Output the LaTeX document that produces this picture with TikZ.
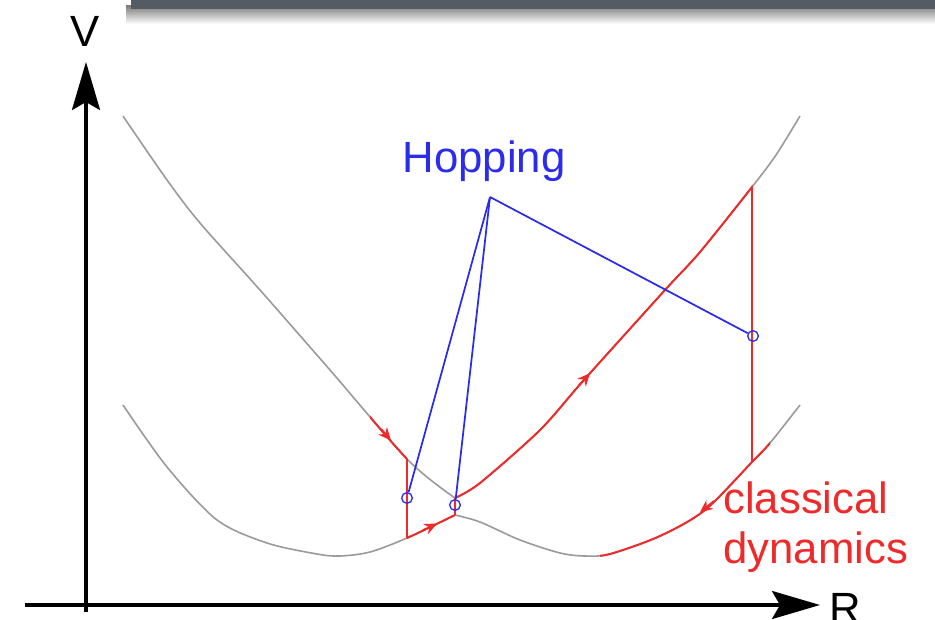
\documentclass[tikz,border=0pt]{standalone}
\usepackage{fontspec}
\setmainfont{Liberation Sans}
\usetikzlibrary{arrows.meta}
\definecolor{curvegray}{HTML}{9A9A9A}
\definecolor{dynred}{HTML}{EE2A2A}
\definecolor{hopblue}{HTML}{2B2BEE}
\definecolor{barcol}{HTML}{555B63}
\begin{document}
\begin{tikzpicture}[x=0.75pt,y=-0.75pt,
  pes/.style={draw=curvegray, line width=1.2pt},
  dyn/.style={draw=dynred, line width=1.5pt},
  dynarrow/.style={dyn, -{Stealth[length=9.5pt,width=8.5pt]}},
  hop/.style={draw=hopblue, line width=1.3pt},
  hopcirc/.style={circle, draw=hopblue, line width=1pt, minimum size=8pt, inner sep=0pt},
  axisline/.style={draw=black, line width=2.5pt, -{Stealth[length=36pt,width=21pt,inset=6pt]}},
  lbl/.style={font=\fontsize{32.8}{39}\selectfont, inner sep=0pt}
]
\useasboundingbox (0,0) rectangle (935,620);

% top bar with shadow
\shade[top color=black!50, bottom color=white] (126,6) rectangle (935,24);
\fill[barcol] (131,0) rectangle (935,9);

% potential energy curves
\draw[pes] plot[smooth] coordinates {(123,116) (167,180) (200,223) (260,290) (330,370) (408,460) (455,498)};
\draw[pes] plot[smooth] coordinates {(455,498) (480,483) (540,430) (583,381) (665,290) (700,252) (752,187) (776,155) (800,116)};
\draw[pes] plot[smooth] coordinates {(123,405) (167,467) (217,520) (267,543) (317,554) (340,556) (370,552) (407,538) (455,515)};
\draw[pes] plot[smooth] coordinates {(455,515) (480,522) (520,540) (560,553) (585,556) (610,554) (660,536) (705,510) (752,462) (770,443) (800,405)};

% classical dynamics (red)
\begin{scope}
  \clip (370,0) rectangle (407.5,620);
  \draw[dyn] plot[smooth] coordinates {(123,116) (167,180) (200,223) (260,290) (330,370) (408,460) (455,498)};
\end{scope}
\begin{scope}
  \clip (406.5,0) rectangle (455.5,620);
  \draw[dyn] plot[smooth] coordinates {(123,405) (167,467) (217,520) (267,543) (317,554) (340,556) (370,552) (407,538) (455,515)};
\end{scope}
\begin{scope}
  \clip (454.5,0) rectangle (752.5,620);
  \draw[dyn] plot[smooth] coordinates {(455,498) (480,483) (540,430) (583,381) (665,290) (700,252) (752,187) (776,155) (800,116)};
\end{scope}
\begin{scope}
  \clip (600,0) rectangle (770,620);
  \draw[dyn] plot[smooth] coordinates {(455,515) (480,522) (520,540) (560,553) (585,556) (610,554) (660,536) (705,510) (752,462) (770,443) (800,405)};
\end{scope}

\coordinate (h1top) at (407,459);
\coordinate (h1bot) at (407,538);
\coordinate (h2bot) at (455,515);
\coordinate (h2top) at (455,498);
\coordinate (h3top) at (752,187);
\coordinate (h3bot) at (752,462);
\draw[dyn] (h1top) -- (h1bot);
\draw[dyn] (h2bot) -- (h2top);
\draw[dyn] (h3top) -- (h3bot);

% direction arrows
\coordinate (a1s) at (381,429);
\coordinate (a1e) at (391,440.4);
\coordinate (a2s) at (423,530.3);
\coordinate (a2e) at (437,523.6);
\coordinate (a3s) at (579,385.5);
\coordinate (a3e) at (590,373.2);
\coordinate (a4s) at (714,501.1);
\coordinate (a4e) at (700,512.4);
\draw[dynarrow] (a1s) -- (a1e);
\draw[dynarrow] (a2s) -- (a2e);
\draw[dynarrow] (a3s) -- (a3e);
\draw[dynarrow] (a4s) -- (a4e);

% hopping
\node[hopcirc] (c1) at (407,498) {};
\node[hopcirc] (c2) at (455,505) {};
\node[hopcirc] (c3) at (753,336) {};
\coordinate (apex) at (490,197);
\draw[hop] (apex) -- (c1);
\draw[hop] (apex) -- (c2);
\draw[hop] (apex) -- (c3);

% axes
\coordinate (vbot) at (86,612);
\coordinate (vtop) at (86,62);
\coordinate (hleft) at (25,605);
\coordinate (hright) at (820,605);
\draw[axisline] (vbot) -- (vtop);
\draw[axisline] (hleft) -- (hright);

% labels
\node[lbl, text=hopblue, anchor=base] (hoplabel) at (484,173) {Hopping};
\node[lbl, text=dynred, anchor=base west] (cl1) at (723,513) {classical};
\node[lbl, text=dynred, anchor=base west] (cl2) at (723,563) {dynamics};
\node[lbl, anchor=base] (vlab) at (85,47) {V};
\node[lbl, anchor=base west] (rlab) at (829,623) {R};
\end{tikzpicture}
\end{document}
